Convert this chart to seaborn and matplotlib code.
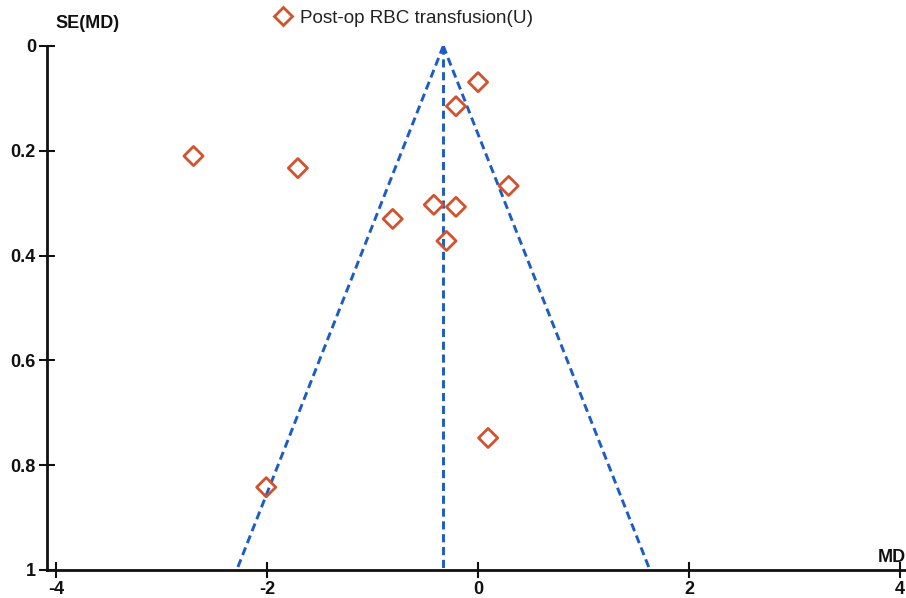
import matplotlib
matplotlib.use("Agg")
import matplotlib.pyplot as plt
import seaborn as sns
import pandas as pd
from matplotlib.lines import Line2D

# Study data (mean difference, standard error)
md = [0.00, -0.21, -2.70, -1.71, 0.29, -0.42, -0.21, -0.81, -0.30, 0.095, -2.01]
se = [0.069, 0.115, 0.210, 0.233, 0.267, 0.303, 0.307, 0.330, 0.372, 0.748, 0.842]
series_label = "Post-op RBC transfusion(U)"

# Funnel (pooled estimate and pseudo 95% limits at SE=0 and SE=1)
funnel_se = [0.0, 1.0]
funnel_left = [-0.33, -2.29]
funnel_right = [-0.33, 1.63]
funnel_center = [-0.33, -0.33]

xticks = [-4, -2, 0, 2, 4]
yticks = [0, 0.2, 0.4, 0.6, 0.8, 1]
ytick_labels = ["0", "0.2", "0.4", "0.6", "0.8", "1"]

sns.set_theme(style="white")
plt.rcParams['font.family'] = ['Liberation Sans', 'DejaVu Sans']

df = pd.DataFrame({"MD": md, "SE": se, "series": series_label})

fig = plt.figure(figsize=(9.06, 5.98), dpi=100)
ax = fig.add_axes([47/906, 28/598, 859/906, 524/598])

blue = "#1d5cc4"
orange = "#d2522e"
dash = dict(color=blue, lw=2.1, linestyle=(0, (2.8, 1.6)))
ax.plot(funnel_left, funnel_se, **dash)
ax.plot(funnel_right, funnel_se, **dash)
ax.plot(funnel_center, funnel_se, **dash)

sns.scatterplot(data=df, x="MD", y="SE", hue="series", palette=[orange],
                marker="D", s=95, facecolor="none", edgecolor=orange,
                linewidth=2.0, ax=ax, legend=False, zorder=3)
for coll in ax.collections:
    coll.set_facecolor("none")
    coll.set_edgecolor(orange)

ax.set_xlim(-4.09, 4.06)
ax.set_ylim(1, 0)
ax.set_xticks(xticks)
ax.set_xticklabels([str(t) for t in xticks])
ax.set_yticks(yticks)
ax.set_yticklabels(ytick_labels)
ax.set_xlabel("")
ax.set_ylabel("")

for s in ["top", "right"]:
    ax.spines[s].set_visible(False)
for s in ["left", "bottom"]:
    ax.spines[s].set_color("#111111")
    ax.spines[s].set_linewidth(2.0)

ax.tick_params(axis="both", which="major", direction="inout", length=12,
               width=1.5, color="#111111", labelsize=13, labelcolor="#111111",
               pad=2, left=True, bottom=True)
for lab in ax.get_xticklabels() + ax.get_yticklabels():
    lab.set_fontweight("bold")

fig.text(55/906, 1 - 24/598, "SE(MD)", fontsize=13, fontweight="bold",
         color="#111111", ha="left", va="center")
fig.text(906/906, 1 - 557/598, "MD", fontsize=13, fontweight="bold",
         color="#111111", ha="right", va="center")

handle = Line2D([], [], marker="D", linestyle="none", markersize=9.5,
                markerfacecolor="none", markeredgecolor=orange, markeredgewidth=2.0)
fig.legend([handle], [series_label], loc="center left",
           bbox_to_anchor=(262/906, 1 - 18/598), frameon=False,
           fontsize=13.6, handletextpad=0.3, borderpad=0, handlelength=1.2,
           labelcolor="#222222")

ax.set_facecolor("white")
fig.savefig("out.png", dpi=100)
